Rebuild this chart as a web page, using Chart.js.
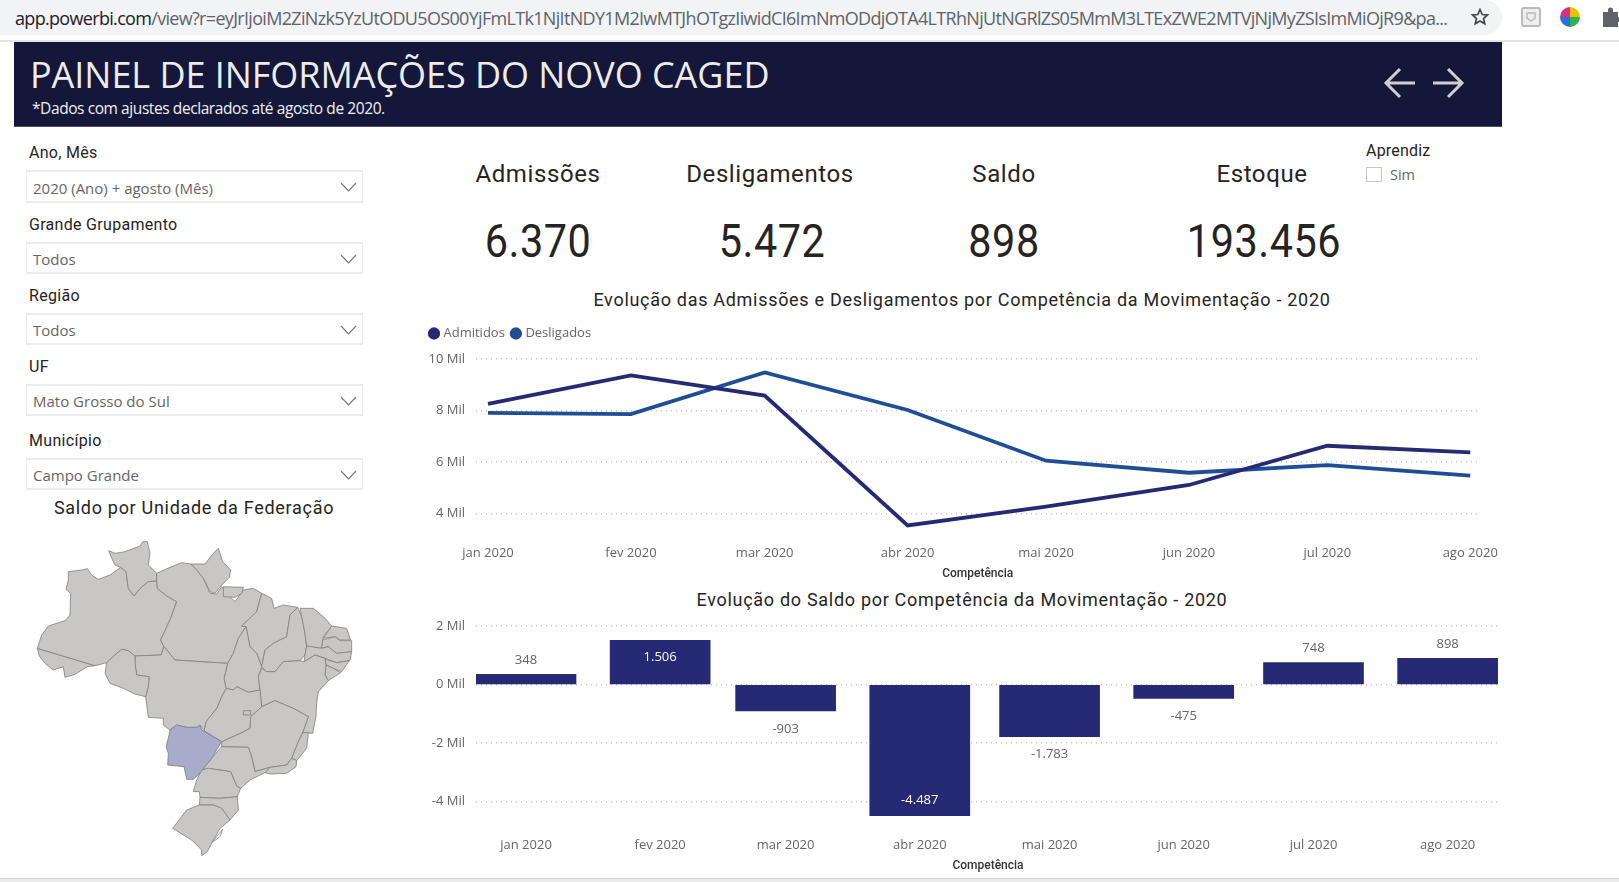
<!DOCTYPE html>
<html lang="pt-BR">
<head>
<meta charset="utf-8">
<title>Painel de Informações do Novo CAGED</title>
<script src="https://cdn.jsdelivr.net/npm/chart.js@4/dist/chart.umd.min.js"></script>
<style>
    html, body { margin: 0; padding: 0; width: 1619px; height: 882px; overflow: hidden; background: #fff; }
    body { position: relative; font-family: "Open Sans", sans-serif; color: #252423; }
    .c { position: absolute; transform: translate(-50%, -50%); white-space: nowrap; }
    .l { position: absolute; transform: translateY(-50%); white-space: nowrap; }
    .din { font-family: Roboto, sans-serif; }
    #urlbar { position: absolute; left: 0; top: 0; width: 1502px; height: 35px; background: #f1f3f4; border-radius: 0 18px 18px 0; }
    #urlline { position: absolute; left: 0; top: 40px; width: 1619px; height: 2px; background: #e3e3e3; }
    #url { left: 15px; top: 18px; font-size: 18px; color: #5f6368; letter-spacing: -0.68px; font-family: "Open Sans", sans-serif; }
    #url b { font-weight: 400; color: #202124; }
    #banner { position: absolute; left: 14px; top: 42px; width: 1488px; height: 84px; background: #141739; border-bottom: 1px solid #4a4c68; }
    #bottomline { position: absolute; left: 0; top: 878px; width: 1619px; height: 4px; background: #ececec; border-top: 1px solid #cfcfcf; }
    .slabel { font-family: Roboto, sans-serif; font-size: 16px; letter-spacing: 0.3px; left: 29px; }
    .sbox { position: absolute; left: 26px; width: 337px; border: 1px solid #ececec; border-top-width: 2px; border-bottom-width: 2px; box-sizing: border-box; }
    .stext { position: absolute; left: 6px; top: 50%; transform: translateY(-45%); font-size: 15px; color: #666; }
    .sbox svg { position: absolute; right: 5px; top: 10px; }
    .kpi-t { font-family: Roboto, sans-serif; font-size: 24px; letter-spacing: 0.6px; top: 174px; }
    .kpi-v { font-family: Roboto, sans-serif; font-size: 46px; letter-spacing: 0.6px; top: 241px; transform: translate(-50%, -50%) scaleX(0.9); }
    .ctitle { font-family: Roboto, sans-serif; font-size: 18px; letter-spacing: 0.7px; }
    canvas { position: absolute; }
    #map { position: absolute; left: 0; top: 490px; width: 400px; height: 392px; }
    #map polygon { fill: #c8c7c6; stroke: #7f7f7f; stroke-width: 2.4; stroke-linejoin: round; }
    #map .sel { fill: #a8abc9; }
    #map .lagoa { fill: #fff; }
</style>
</head>
<body>
<div id="urlbar"></div>
<div id="urlline"></div>
<div id="url" class="l"><b>app.powerbi.com</b>/view?r=eyJrIjoiM2ZiNzk5YzUtODU5OS00YjFmLTk1NjItNDY1M2IwMTJhOTgzIiwidCI6ImNmODdjOTA4LTRhNjUtNGRlZS05MmM3LTExZWE2MTVjNjMyZSIsImMiOjR9&amp;pa...</div>
<svg style="position:absolute;left:1470px;top:7px" width="20" height="20" viewBox="0 0 24 24"><path d="M12 3l2.7 6 6.3.6-4.8 4.2 1.5 6.4L12 16.8l-5.7 3.4 1.5-6.4L3 9.6 9.3 9z" fill="none" stroke="#444" stroke-width="2"/></svg>
<svg style="position:absolute;left:1520px;top:6px" width="22" height="22" viewBox="0 0 22 22"><rect x="2" y="2" width="18" height="18" rx="2" fill="#eee" stroke="#bbb" stroke-width="2"/><path d="M7 7h8v5l-4 3-4-3z" fill="none" stroke="#bbb" stroke-width="1.5"/></svg>
<svg style="position:absolute;left:1560px;top:7px" width="20" height="20" viewBox="0 0 20 20"><path d="M10 10L10 0A10 10 0 0 1 20 10z" fill="#e8c400"/><path d="M10 10L20 10A10 10 0 0 1 10 20z" fill="#2fb34a"/><path d="M10 10L10 20A10 10 0 0 1 0 10z" fill="#2a6fdb"/><path d="M10 10L0 10A10 10 0 0 1 10 0z" fill="#d8308a"/></svg>
<svg style="position:absolute;left:1602px;top:7px" width="20" height="20" viewBox="0 0 20 20"><path d="M1 5h5V3a2.5 2.5 0 0 1 5 0v2h5v5h2a2.5 2.5 0 0 1 0 5h-2v5H1z" fill="#5f6368"/></svg>

<div id="banner"></div>
<div class="l" style="left:30px;top:74px;font-size:36px;color:#ececec;letter-spacing:-0.05px">PAINEL DE INFORMAÇÕES DO NOVO CAGED</div>
<div class="l" style="left:32px;top:108px;font-size:15.5px;color:#f0f0f0;letter-spacing:-0.42px">*Dados com ajustes declarados até agosto de 2020.</div>
<svg style="position:absolute;left:1383px;top:66px" width="84" height="34" viewBox="0 0 84 34" fill="none" stroke="#cfcfcf" stroke-width="3"><path d="M32 17H4M17 3L3 17l14 14"/><path d="M50 17h28M65 3l14 14-14 14"/></svg>

<div class="l slabel" style="top:152px">Ano, Mês</div>
<div class="sbox" style="top:170px;height:33px"><span class="stext">2020 (Ano) + agosto (Mês)</span><svg width="17" height="10" viewBox="0 0 17 10" fill="none" stroke="#777" stroke-width="1.1"><path d="M1 1l7.5 8L16 1"/></svg></div>
<div class="l slabel" style="top:224px">Grande Grupamento</div>
<div class="sbox" style="top:242px;height:32px"><span class="stext">Todos</span><svg width="17" height="10" viewBox="0 0 17 10" fill="none" stroke="#777" stroke-width="1.1"><path d="M1 1l7.5 8L16 1"/></svg></div>
<div class="l slabel" style="top:295px">Região</div>
<div class="sbox" style="top:313px;height:32px"><span class="stext">Todos</span><svg width="17" height="10" viewBox="0 0 17 10" fill="none" stroke="#777" stroke-width="1.1"><path d="M1 1l7.5 8L16 1"/></svg></div>
<div class="l slabel" style="top:366px">UF</div>
<div class="sbox" style="top:384px;height:32px"><span class="stext">Mato Grosso do Sul</span><svg width="17" height="10" viewBox="0 0 17 10" fill="none" stroke="#777" stroke-width="1.1"><path d="M1 1l7.5 8L16 1"/></svg></div>
<div class="l slabel" style="top:440px">Município</div>
<div class="sbox" style="top:458px;height:32px"><span class="stext">Campo Grande</span><svg width="17" height="10" viewBox="0 0 17 10" fill="none" stroke="#777" stroke-width="1.1"><path d="M1 1l7.5 8L16 1"/></svg></div>
<div class="c din" style="left:194px;top:507px;font-size:18px;letter-spacing:0.7px">Saldo por Unidade da Federação</div>

<svg id="map" viewBox="0 0 1200 1176">
    <polygon points="112,475 285,527 262,530 225,553 195,562 190,530 160,540 135,520 118,498"/>
    <polygon points="112,475 125,435 145,408 195,392 210,375 212,310 198,298 205,270 205,245 245,240 262,236 275,255 295,268 330,255 362,232 378,245 385,295 402,318 420,295 445,275 470,272 472,295 500,318 530,335 512,385 482,450 492,470 483,495 405,498 385,482 365,478 345,495 320,518 285,527"/>
    <polygon points="326,182 345,190 375,185 420,168 428,155 442,155 450,190 445,225 470,250 470,272 445,275 420,295 402,318 385,295 378,245 362,232 345,225 335,205"/>
    <polygon points="572,222 615,222 640,190 655,175 668,215 692,240 688,262 665,285 645,310 630,305 610,265 590,240"/>
    <polygon points="470,250 510,232 545,218 572,222 590,240 610,265 630,310 650,312 665,290 680,310 705,335 730,300 760,295 785,310 770,365 725,408 738,410 715,445 700,490 683,520 525,510 492,470 482,450 512,385 530,335 500,318 472,295 470,272"/>
    <polygon points="670,290 730,292 725,310 705,322 670,320"/>
    <polygon points="785,310 815,325 822,355 850,345 893,352 870,375 860,440 820,460 795,480 785,530 770,490 750,470 738,410 725,408 770,365"/>
    <polygon points="738,410 750,470 770,490 785,530 775,560 780,600 745,607 710,590 700,600 678,595 672,565 683,520 700,490 715,445"/>
    <polygon points="893,352 905,380 915,430 920,468 915,495 900,512 850,515 825,545 800,545 785,530 795,480 820,460 860,440 870,375"/>
    <polygon points="900,355 940,355 975,385 995,408 970,440 965,475 920,468 915,430 905,380"/>
    <polygon points="995,408 1040,415 1052,450 1020,450 1005,440 970,445"/>
    <polygon points="968,450 1005,440 1020,452 1055,452 1055,485 1010,490 985,470 965,475"/>
    <polygon points="920,468 965,475 985,470 1010,490 1055,485 1050,512 1010,518 975,505 945,495 912,515 915,495"/>
    <polygon points="975,508 1010,518 1048,512 1025,545 1000,535 978,525"/>
    <polygon points="978,525 1000,535 1022,548 985,572 975,555"/>
    <polygon points="785,535 800,545 825,545 850,515 900,512 912,515 945,495 975,505 978,525 975,555 985,572 955,605 950,640 948,680 938,730 908,728 925,680 880,655 825,632 785,650 780,600 775,560"/>
    <polygon points="785,650 825,632 880,655 925,680 908,728 893,760 875,805 860,825 810,832 765,845 755,800 745,772 665,770 665,755 720,730 750,715 752,680"/>
    <polygon points="908,728 925,728 920,775 890,812 875,805 893,760"/>
    <polygon points="875,805 890,812 888,830 860,850 810,852 795,848 810,832 860,825"/>
    <polygon points="665,770 745,772 755,800 765,845 810,832 795,848 750,870 722,895 710,888 692,845 625,835 605,840 635,805"/>
    <polygon points="678,595 700,600 710,590 745,607 780,600 785,650 752,680 750,715 720,730 665,755 612,722 618,695 650,655 665,620"/>
    <polygon points="730,662 752,662 752,675 730,675"/>
    <polygon points="405,498 483,495 492,470 525,510 683,520 672,565 678,595 665,620 650,655 618,695 612,722 600,705 590,712 560,712 530,705 510,720 490,705 490,685 445,682 437,620 445,590 447,560 410,555 405,520"/>
    <polygon points="320,518 345,495 365,478 385,482 405,498 405,520 410,555 447,560 445,590 437,620 405,612 370,595 330,580 315,550"/>
    <polygon points="605,840 625,835 692,845 710,888 722,895 712,920 660,925 600,922 598,905 580,905 590,870"/>
    <polygon points="600,922 660,925 712,920 715,960 690,990 665,955 640,945 598,945"/>
    <polygon points="598,945 640,945 665,955 690,990 660,1015 635,1060 622,1085 605,1097 605,1080 575,1050 550,1035 518,1015 560,960"/>
    <polygon class="lagoa" points="635,1058 668,1018 660,1040"/>
    <polygon class="sel" points="510,720 530,705 560,712 590,712 600,705 605,720 665,755 635,805 595,855 580,868 560,868 552,830 503,825 505,790 498,770 505,745"/>
</svg>

<div class="c kpi-t" style="left:538px">Admissões</div>
<div class="c kpi-t" style="left:770px">Desligamentos</div>
<div class="c kpi-t" style="left:1004px">Saldo</div>
<div class="c kpi-t" style="left:1262px">Estoque</div>
<div class="c kpi-v" style="left:538px">6.370</div>
<div class="c kpi-v" style="left:772px">5.472</div>
<div class="c kpi-v" style="left:1004px">898</div>
<div class="c kpi-v" style="left:1264px">193.456</div>
<div class="l din" style="left:1366px;top:150px;font-size:16px;letter-spacing:0.2px">Aprendiz</div>
<div style="position:absolute;left:1366px;top:167px;width:16px;height:15px;border:1px solid #c8c8c8;box-sizing:border-box"></div>
<div class="l" style="left:1390px;top:174px;font-size:14.5px;color:#666">Sim</div>

<div class="c ctitle" style="left:962px;top:299px">Evolução das Admissões e Desligamentos por Competência da Movimentação - 2020</div>
<div class="c ctitle" style="left:962px;top:599px">Evolução do Saldo por Competência da Movimentação - 2020</div>

<canvas id="lineChart" style="left:423px;top:319px;width:1086px;height:262px"></canvas>
<canvas id="barChart" style="left:423px;top:600px;width:1092px;height:273px"></canvas>
<div id="bottomline"></div>

<script>
const months = ['jan 2020', 'fev 2020', 'mar 2020', 'abr 2020', 'mai 2020', 'jun 2020', 'jul 2020', 'ago 2020'];
// the x axis is a date axis in the original, so months are spaced by day of the year
const monthDays = [0, 31, 60, 91, 121, 152, 182, 213];
const admitidos = [8258, 9366, 8577, 3533, 4265, 5105, 6628, 6370];
const desligados = [7910, 7860, 9480, 8020, 6048, 5580, 5880, 5472];
const saldo = [348, 1506, -903, -4487, -1783, -475, 748, 898];
const lineTicks = [4000, 6000, 8000, 10000];
const barTicks = [-4000, -2000, 0, 2000];
const insideLabels = [1506, -4487];

const tickFont = { family: '"Open Sans", sans-serif', size: 13 };
const tickColor = '#666666';
const navy = '#262974';
const blue = '#1f4e96';

function toPoints(values) {
    return values.map((v, i) => ({ x: monthDays[i], y: v }));
}

function xAxis(min, max, padding, height) {
    return {
        type: 'linear',
        min: min,
        max: max,
        offset: false,
        grid: { display: false, drawTicks: false },
        border: { display: false },
        afterBuildTicks: scale => { scale.ticks = monthDays.map(d => ({ value: d })); },
        afterFit: scale => { scale.height = height; },
        ticks: {
            autoSkip: false,
            maxRotation: 0,
            padding: padding,
            color: tickColor,
            font: tickFont,
            callback: (value, i) => months[i]
        },
        title: {
            display: true,
            text: 'Competência',
            color: '#333',
            font: { family: 'Roboto, sans-serif', size: 12, weight: '500' },
            padding: { top: 0, bottom: 0 }
        }
    };
}

function yAxis(min, max, tickValues) {
    return {
        min: min,
        max: max,
        grid: { color: '#c4c4c4', lineWidth: 1.4, drawTicks: false },
        border: { display: false, dash: [1, 4] },
        afterBuildTicks: scale => { scale.ticks = tickValues.map(v => ({ value: v })); },
        afterFit: scale => { scale.width = 53; },
        ticks: {
            padding: 11,
            color: tickColor,
            font: tickFont,
            callback: value => (value / 1000) + ' Mil'
        }
    };
}

// leaves room between the legend and the plot
const legendGap = {
    id: 'legendGap',
    beforeInit(chart) {
        if (!chart.legend) return;
        const fit = chart.legend.fit;
        chart.legend.fit = function () {
            fit.call(this);
            this.height = 40;
        };
    }
};

const barLabels = {
    id: 'barLabels',
    afterDatasetsDraw(chart) {
        const ctx = chart.ctx;
        const nf = new Intl.NumberFormat('pt-BR');
        ctx.save();
        ctx.font = '13px "Open Sans", sans-serif';
        ctx.textAlign = 'center';
        ctx.textBaseline = 'middle';
        chart.getDatasetMeta(0).data.forEach((bar, i) => {
            const v = saldo[i];
            let y;
            if (insideLabels.includes(v)) {
                ctx.fillStyle = '#ffffff';
                y = v >= 0 ? bar.y + 17 : bar.y - 15;
            } else {
                ctx.fillStyle = tickColor;
                y = v >= 0 ? bar.y - 14 : bar.y + 18;
            }
            ctx.fillText(nf.format(v), bar.x, y);
        });
        ctx.restore();
    }
};

document.addEventListener('DOMContentLoaded', function () {
    new Chart(document.getElementById('lineChart'), {
        type: 'line',
        plugins: [legendGap],
        data: {
            datasets: [
                { label: 'Admitidos', data: toPoints(admitidos), borderColor: navy, backgroundColor: navy, borderWidth: 3.8, pointRadius: 0, tension: 0 },
                { label: 'Desligados', data: toPoints(desligados), borderColor: blue, backgroundColor: blue, borderWidth: 3.8, pointRadius: 0, tension: 0 }
            ]
        },
        options: {
            responsive: false,
            animation: false,
            layout: { padding: { right: 16 } },
            plugins: {
                tooltip: { enabled: false },
                legend: {
                    align: 'start',
                    labels: {
                        usePointStyle: true,
                        pointStyle: 'circle',
                        boxHeight: 6,
                        boxWidth: 6,
                        padding: 8,
                        color: tickColor,
                        font: tickFont
                    }
                }
            },
            scales: {
                x: xAxis(-2.6, 215, 11, 47),
                y: yAxis(3200, 10000, lineTicks)
            }
        }
    });

    new Chart(document.getElementById('barChart'), {
        type: 'bar',
        plugins: [barLabels],
        data: {
            datasets: [{ data: toPoints(saldo), backgroundColor: navy, barThickness: 100 }]
        },
        options: {
            responsive: false,
            animation: false,
            layout: { padding: { top: 26, right: 15 } },
            plugins: { legend: { display: false }, tooltip: { enabled: false } },
            scales: {
                x: xAxis(-11.56, 225.1, 15, 51),
                y: yAxis(-4700, 2000, barTicks)
            }
        }
    });
});
</script>
</body>
</html>
